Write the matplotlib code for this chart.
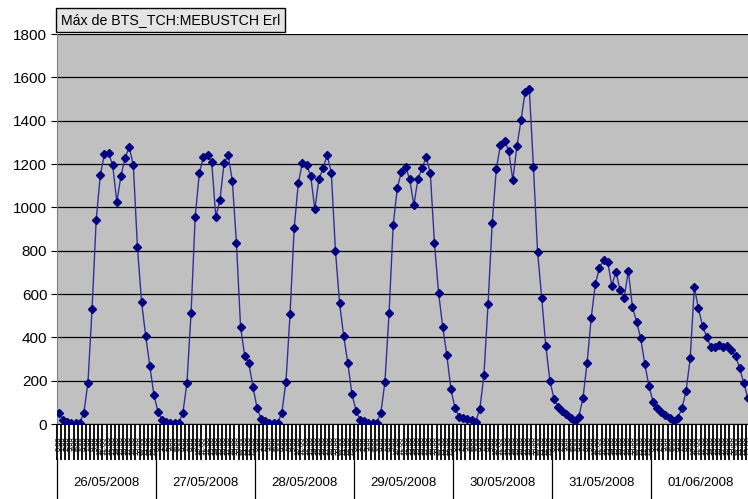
import numpy as np
from matplotlib import pyplot as plt

plt.rcParams['font.family'] = ['Liberation Sans', 'DejaVu Sans']

dates = ['26/05/2008', '27/05/2008', '28/05/2008', '29/05/2008',
         '30/05/2008', '31/05/2008', '01/06/2008']
hours = ['%d:00' % h for h in range(24)]

# hourly max Erlang values, one list per day
d26 = [50, 20, 10, 5, 5, 5, 50, 190, 531, 941, 1149, 1246, 1250, 1195, 1024, 1145, 1228, 1278, 1195, 817, 563, 406, 268, 134]
d27 = [55, 18, 10, 5, 5, 5, 50, 189, 512, 955, 1158, 1232, 1240, 1209, 955, 1034, 1204, 1240, 1122, 835, 448, 315, 281, 172]
d28 = [74, 23, 12, 5, 5, 5, 52, 194, 508, 904, 1112, 1206, 1195, 1145, 992, 1130, 1181, 1241, 1158, 800, 558, 406, 281, 138]
d29 = [62, 18, 12, 5, 5, 5, 50, 195, 512, 918, 1089, 1164, 1186, 1130, 1010, 1130, 1181, 1232, 1158, 834, 606, 449, 318, 161]
d30 = [72, 34, 28, 23, 18, 11, 69, 226, 554, 927, 1177, 1288, 1308, 1260, 1126, 1283, 1403, 1534, 1545, 1185, 795, 583, 360, 198]
d31 = [115, 78, 60, 45, 30, 12, 34, 118, 281, 489, 646, 720, 757, 749, 638, 703, 618, 583, 706, 541, 472, 395, 277, 175]
d01 = [103, 72, 57, 41, 26, 14, 29, 72, 152, 303, 631, 534, 452, 403, 357, 354, 365, 357, 360, 341, 314, 257, 188, 118]

y = np.array(d26 + d27 + d28 + d29 + d30 + d31 + d01)
x = np.arange(len(y))

fig = plt.figure(figsize=(7.48, 4.99), dpi=100)
ax = fig.add_axes([57/748, 75/499, 693/748, 390/499])
ax.set_facecolor('#c0c0c0')

ax.plot(x, y, color='#30309a', linewidth=1.0, marker='D', markersize=3.8,
        markerfacecolor='#000080', markeredgecolor='#000080', zorder=3)

ax.set_xlim(-0.5, len(y) - 0.5)
ax.set_ylim(0, 1800)
ax.set_yticks(range(0, 1801, 200))
ax.grid(axis='y', color='black', linewidth=0.9)
ax.set_axisbelow(True)
for s in ['top', 'right']:
    ax.spines[s].set_visible(False)
ax.spines['left'].set_color('#808080')
ax.spines['bottom'].set_color('black')
ax.tick_params(axis='y', labelsize=11, length=4, color='black', pad=3)

# tick marks between every hour, hour labels squeezed underneath
ax.set_xticks(np.arange(-0.5, len(y), 1))
ax.set_xticklabels([])
ax.tick_params(axis='x', which='major', length=26, width=1.3, color='black')
ax.set_xticks(x, minor=True)
ax.set_xticklabels(hours * 7, minor=True, rotation=90, fontsize=5.5)
ax.tick_params(axis='x', which='minor', length=0, pad=9)

# date row with dividers
trans = ax.get_xaxis_transform()
for i, d in enumerate(dates):
    ax.text(24 * i + 11.5, -59/390, d, transform=trans, ha='center', va='center',
            fontsize=9.5, clip_on=False)
    ax.plot([24 * i + 23.5] * 2, [0, -75/390], transform=trans, color='black',
            linewidth=0.9, clip_on=False)
ax.plot([-0.5] * 2, [-34/390, -75/390], transform=trans, color='black',
        linewidth=0.9, clip_on=False)

fig.text(61/748, 1 - 20/499, 'Máx de BTS_TCH:MEBUSTCH Erl', fontsize=10.2,
         va='center', ha='left',
         bbox=dict(boxstyle='square,pad=0.35', facecolor='#e4e4e4',
                   edgecolor='black', linewidth=1))

fig.savefig('out.png', dpi=100)
